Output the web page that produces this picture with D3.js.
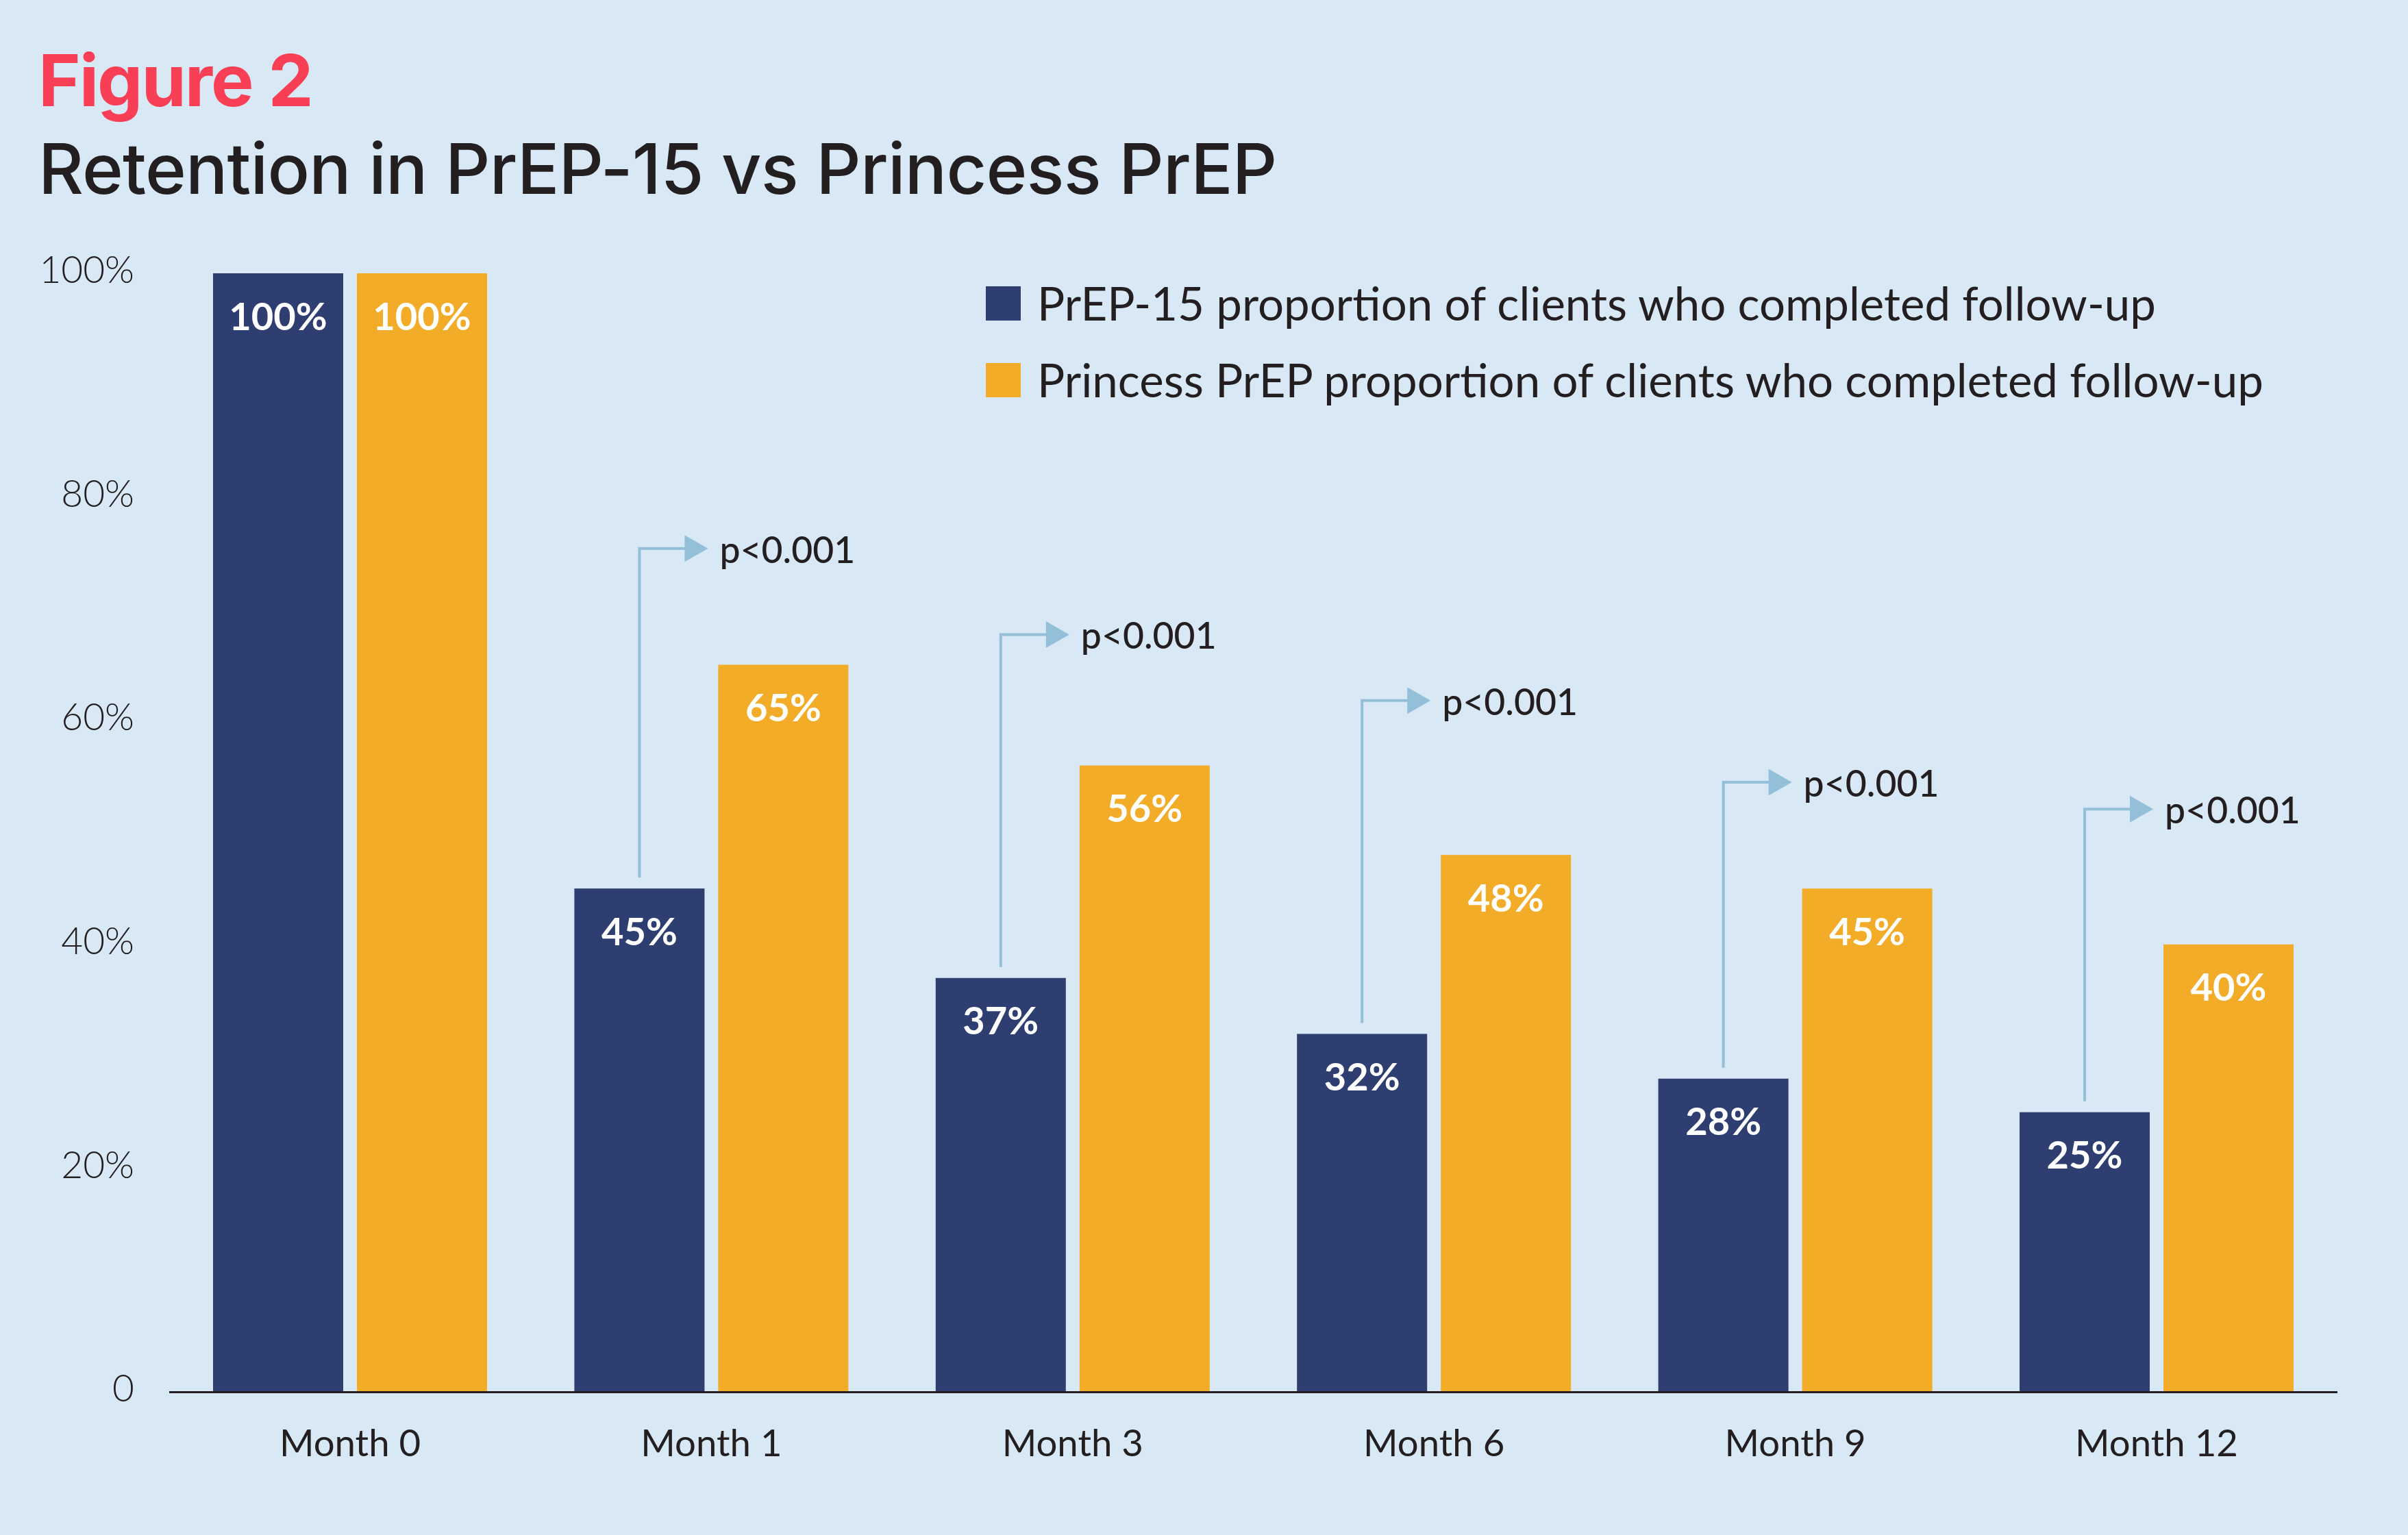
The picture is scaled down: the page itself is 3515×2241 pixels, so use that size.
<!DOCTYPE html>
<meta charset="utf-8">
<script src="https://cdn.jsdelivr.net/npm/d3@7"></script>
<style>
  body { margin: 0; background: #d9e8f5; }
  #wrapper { width: 3515px; height: 2241px; }
  text { fill: #231f20; }
</style>

<div id="wrapper"></div>

<script>
  // Data
  const months = ["Month 0", "Month 1", "Month 3", "Month 6", "Month 9", "Month 12"];
  const series = ["PrEP-15", "Princess PrEP"];
  const prep15 = [100, 45, 37, 32, 28, 25];
  const princess = [100, 65, 56, 48, 45, 40];
  const legendLabels = [
    "PrEP-15 proportion of clients who completed follow-up",
    "Princess PrEP proportion of clients who completed follow-up"
  ];
  const yTicks = [0, 20, 40, 60, 80, 100];
  // p-value brackets: month, label, height of the bracket (in % units)
  const pMonths = ["Month 1", "Month 3", "Month 6", "Month 9", "Month 12"];
  const pLabels = ["p<0.001", "p<0.001", "p<0.001", "p<0.001", "p<0.001"];
  const pLevels = [75.4, 67.7, 61.8, 54.5, 52.1];

  const colors = ["#2e3e70", "#f2ac27"];

  const W = 3515, H = 2241;
  const svg = d3.select("#wrapper")
    .append("svg")
    .attr("width", W)
    .attr("height", H);

  svg.append("rect").attr("width", W).attr("height", H).attr("fill", "#d9e8f5");

  // Scales
  const x = d3.scaleBand()
    .domain(months)
    .range([311, 3348])
    .paddingInner(0.2416)
    .paddingOuter(0);

  const xs = d3.scaleBand()
    .domain(series)
    .range([0, x.bandwidth()])
    .paddingInner(0.0952);

  const y = d3.scaleLinear()
    .domain([0, 100])
    .range([2032, 399]);

  const rows = months.map((m, i) => ({ month: m, values: [prep15[i], princess[i]] }));

  // Titles
  svg.append("text")
    .attr("x", 56).attr("y", 155)
    .style("font-family", "Inter")
    .style("font-weight", 700)
    .style("font-size", "105px")
    .style("letter-spacing", "-2px")
    .style("fill", "#f83f56")
    .text("Figure 2");

  svg.append("text")
    .attr("x", 56).attr("y", 283)
    .style("font-family", "Inter")
    .style("font-weight", 500)
    .style("font-size", "102px")
    .style("letter-spacing", "-0.8px")
    .text("Retention in PrEP-15 vs Princess PrEP");

  // Y axis
  const yAxis = svg.append("g")
    .attr("transform", "translate(196,-4)")
    .call(d3.axisLeft(y).tickValues(yTicks).tickSize(0).tickPadding(0)
      .tickFormat(d => d === 0 ? "0" : d + "%"));
  yAxis.select(".domain").remove();
  yAxis.selectAll("text")
    .style("font-family", "Lato")
    .style("font-weight", 300)
    .style("font-size", "55px")
    .style("fill", "#231f20");

  // Bars
  const groups = svg.append("g")
    .selectAll("g")
    .data(rows)
    .join("g")
    .attr("transform", d => `translate(${x(d.month)},0)`);

  groups.selectAll("rect")
    .data(d => d.values.map((v, j) => ({ key: series[j], value: v, j })))
    .join("rect")
    .attr("x", d => xs(d.key))
    .attr("y", d => y(d.value))
    .attr("width", xs.bandwidth())
    .attr("height", d => y(0) - y(d.value))
    .attr("fill", d => colors[d.j]);

  groups.selectAll("text.val")
    .data(d => d.values.map((v, j) => ({ key: series[j], value: v, j })))
    .join("text")
    .attr("class", "val")
    .attr("x", d => xs(d.key) + xs.bandwidth() / 2)
    .attr("y", d => y(d.value) + 61)
    .attr("text-anchor", "middle")
    .attr("dominant-baseline", "central")
    .style("font-family", "Lato")
    .style("font-weight", 700)
    .style("font-size", "56px")
    .style("fill", "#fff")
    .text(d => d.value + "%");

  // Baseline
  svg.append("line")
    .attr("x1", 247).attr("x2", 3412)
    .attr("y1", y(0) + 0.5).attr("y2", y(0) + 0.5)
    .attr("stroke", "#231f20")
    .attr("stroke-width", 3);

  // X axis labels
  const xAxis = svg.append("g")
    .attr("transform", `translate(0,${y(0)})`)
    .call(d3.axisBottom(x).tickSize(0).tickPadding(0));
  xAxis.select(".domain").remove();
  xAxis.selectAll("text")
    .attr("dy", null)
    .attr("y", 94)
    .style("font-family", "Lato")
    .style("font-weight", 400)
    .style("font-size", "54.5px")
    .style("fill", "#231f20");

  // p-value brackets
  const brackets = svg.append("g")
    .selectAll("g")
    .data(pMonths.map((m, i) => ({ month: m, label: pLabels[i], level: pLevels[i], i: months.indexOf(m) })))
    .join("g")
    .attr("transform", d => `translate(${x(d.month) + xs(series[0]) + xs.bandwidth() / 2},0)`);

  brackets.append("path")
    .attr("d", d => `M0,${y(prep15[d.i]) - 16}V${y(d.level)}H68`)
    .attr("fill", "none")
    .attr("stroke", "#93bfd8")
    .attr("stroke-width", 4);

  brackets.append("path")
    .attr("d", d => `M66,${y(d.level) - 19.5}L100,${y(d.level)}L66,${y(d.level) + 19.5}Z`)
    .attr("fill", "#93bfd8");

  brackets.append("text")
    .attr("x", 117)
    .attr("y", d => y(d.level))
    .attr("dominant-baseline", "central")
    .style("font-family", "Lato")
    .style("font-weight", 500)
    .style("font-size", "53.5px")
    .text(d => d.label);

  // Legend
  const legend = svg.append("g")
    .selectAll("g")
    .data(legendLabels)
    .join("g")
    .attr("transform", (d, i) => `translate(1439,${418 + i * 112})`);

  legend.append("rect")
    .attr("width", 51).attr("height", 50)
    .attr("fill", (d, i) => colors[i]);

  legend.append("text")
    .attr("x", 75).attr("y", 50)
    .style("font-family", "Lato")
    .style("font-weight", 400)
    .style("font-size", "67.2px")
    .text(d => d);
</script>
